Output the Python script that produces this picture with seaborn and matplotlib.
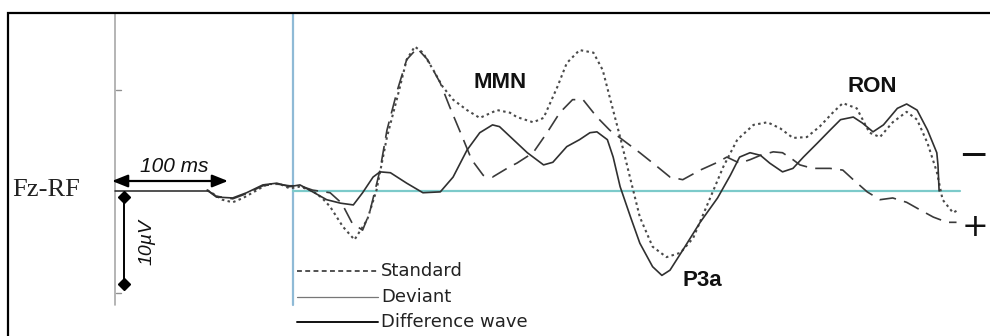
import numpy as np
import pandas as pd
import matplotlib
matplotlib.use("Agg")
import matplotlib.pyplot as plt
from matplotlib.lines import Line2D
import seaborn as sns

# ---- ERP traces at Fz-RF (time in ms from stimulus onset, amplitude in µV; negative up)
t_standard = [-74, -69, -61, -52, -43, -31, -22, -11, -3, 6,
              17, 25, 32, 43, 53, 64, 72, 81, 90, 98,
              105, 112, 121, 129, 138, 150, 161, 176, 187, 193,
              207, 216, 228, 236, 247, 259, 267, 273, 282, 291,
              299, 310, 322, 334, 345, 359, 371, 383, 397, 409,
              420, 431, 443, 454, 466, 474, 486, 497, 506, 517,
              529, 538, 547, 555, 560, 569, 573]
v_standard = [-0.1, 0.3, 1.0, 1.3, 0.8, -0.1, -0.8, -0.8, -0.3, -0.5,
              0.0, 0.8, 1.8, 4.1, 5.6, 3.3, -0.1, -6.2, -10.8, -15.1,
              -16.6, -15.9, -13.9, -12.0, -10.5, -9.3, -8.4, -9.3, -9.0, -8.5,
              -7.9, -8.4, -12.0, -14.7, -16.2, -15.9, -13.9, -10.8, -6.2, -1.3,
              3.0, 6.4, 7.6, 7.1, 5.4, 1.0, -2.8, -5.9, -7.6, -7.9,
              -7.2, -6.1, -6.2, -7.4, -9.1, -10.1, -9.5, -6.7, -6.2, -7.9,
              -9.1, -8.2, -5.5, -2.2, 1.0, 2.5, 2.2]

t_deviant = [-74, -66, -52, -40, -26, -14, -3, 6, 17, 32,
             42, 51, 60, 66, 75, 81, 90, 98, 107, 116,
             127, 135, 146, 154, 164, 172, 187, 193, 207, 219,
             230, 241, 250, 262, 273, 284, 299, 314, 325, 336,
             351, 366, 374, 385, 394, 403, 414, 422, 431, 437,
             448, 463, 474, 483, 495, 506, 517, 529, 541, 552,
             564, 572]
v_deviant = [-0.1, 0.6, 0.9, 0.3, -0.6, -0.8, -0.6, -0.6, -0.1, 0.2,
             1.4, 3.7, 4.5, 2.5, -2.4, -7.0, -11.6, -15.1, -16.4, -15.1,
             -12.4, -9.7, -6.2, -3.6, -1.8, -1.6, -2.8, -3.2, -4.4, -6.7,
             -9.0, -10.5, -10.5, -8.5, -7.0, -5.9, -4.4, -2.8, -1.6, -1.3,
             -2.4, -3.3, -3.9, -3.2, -3.6, -4.1, -4.5, -4.4, -3.6, -3.0,
             -2.6, -2.6, -2.4, -1.3, 0.1, 1.0, 0.8, 1.3, 2.2, 3.0,
             3.6, 3.6]

t_difference = [-74, -66, -52, -40, -26, -14, -3, 6, 17, 29,
                41, 52, 60, 69, 75, 84, 98, 112, 127, 138,
                150, 161, 172, 178, 190, 202, 216, 224, 236, 247,
                256, 262, 271, 276, 282, 291, 299, 310, 318, 325,
                336, 351, 366, 377, 385, 394, 403, 411, 422, 431,
                440, 452, 463, 472, 483, 491, 500, 509, 521, 529,
                538, 547, 555, 556, 557]
v_difference = [-0.1, 0.7, 0.8, 0.2, -0.7, -0.9, -0.5, -0.7, 0.1, 1.0,
                1.4, 1.6, 0.2, -1.6, -2.2, -2.1, -0.9, 0.2, 0.1, -1.6,
                -4.7, -6.7, -7.6, -7.4, -5.9, -4.4, -3.0, -3.3, -5.1, -5.9,
                -6.7, -6.8, -5.9, -3.9, -0.5, 3.0, 6.0, 8.7, 9.7, 9.1,
                6.8, 3.6, 0.8, -1.8, -3.9, -4.4, -4.1, -3.2, -2.2, -2.6,
                -3.9, -5.5, -7.0, -8.2, -8.5, -7.8, -6.8, -7.6, -9.5, -10.0,
                -9.3, -7.0, -4.4, -3.0, 0.0]

legend_labels = ["Standard", "Deviant", "Difference wave"]
component_labels = ["MMN", "P3a", "RON"]

W, H = 990, 336
sns.set_theme(style="white")
plt.rcParams["font.family"] = ["Liberation Sans", "DejaVu Sans"]

fig = plt.figure(figsize=(W / 100, H / 100), dpi=100)
fig.patch.set_facecolor("white")
ax = fig.add_axes([0, 0, 1, 1])
ax.set_facecolor("white")

PX_PER_MS = 1.16
PX_PER_UV = 8.7
ONSET_PX, BASE_PY = 293, 191
ax.set_xlim(-ONSET_PX / PX_PER_MS, (W - ONSET_PX) / PX_PER_MS)
ax.set_ylim((H - BASE_PY) / PX_PER_UV, -BASE_PY / PX_PER_UV)


def fx(px):
    return px / W


def fy(py):
    return 1 - py / H


def to_t(px):
    return (px - ONSET_PX) / PX_PER_MS


def to_v(py):
    return (py - BASE_PY) / PX_PER_UV


# frame (top and left edges)
fig.add_artist(Line2D([fx(8), fx(8), fx(990)], [fy(336), fy(13), fy(13)],
                      color="black", lw=1.6, solid_joinstyle="miter"))

# amplitude axis with two small ticks
ax.plot([to_t(115)] * 2, [to_v(13), to_v(305)], color="#a8a8a8", lw=1.2)
for py in (90, 293):
    ax.plot([to_t(116), to_t(121)], [to_v(py)] * 2, color="#909090", lw=1.0)

# stimulus onset and zero line
ax.plot([0, 0], [to_v(13), to_v(305)], color="#8fbad6", lw=1.6)
ax.plot([0, 575], [0, 0], color="#7ccaca", lw=1.6)
ax.plot([to_t(115), to_t(208)], [0, 0], color="#222222", lw=1.1)

# traces
df_std = pd.DataFrame({"t": t_standard, "v": v_standard})
df_dev = pd.DataFrame({"t": t_deviant, "v": v_deviant})
df_dif = pd.DataFrame({"t": t_difference, "v": v_difference})
sns.lineplot(data=df_std, x="t", y="v", sort=False, estimator=None, ax=ax,
             color="#4a4a4a", lw=1.5, linestyle=(0, (1.2, 1.6)))
sns.lineplot(data=df_dev, x="t", y="v", sort=False, estimator=None, ax=ax,
             color="#3a3a3a", lw=1.2, linestyle=(0, (10, 5)))
sns.lineplot(data=df_dif, x="t", y="v", sort=False, estimator=None, ax=ax,
             color="#303030", lw=1.2)
ax.axis("off")

# 100 ms time scale arrow
ax.annotate("", xy=(to_t(112) + 100, to_v(181)), xytext=(to_t(112), to_v(181)),
            arrowprops=dict(arrowstyle="<|-|>,head_length=0.95,head_width=0.38",
                            mutation_scale=10, color="black", lw=1.6,
                            shrinkA=0, shrinkB=0))
fig.text(fx(174), fy(166), "100 ms", fontsize=15, style="italic",
         ha="center", va="center", color="#111111")

# 10 µV amplitude scale bar
bar_t = to_t(124)
ax.plot([bar_t, bar_t], [to_v(197), to_v(197) + 10], color="black", lw=1.4,
        marker="D", markersize=6.5, markerfacecolor="black")
fig.text(fx(147), fy(242), "10µV", fontsize=14, style="italic", rotation=90,
         ha="center", va="center", color="#111111")

fig.text(fx(12), fy(190), "Fz-RF", fontsize=19, family="Liberation Serif",
         ha="left", va="center", color="#222222")

# component labels
for label, (px, py) in zip(component_labels, [(500, 83), (702, 280), (872, 87)]):
    fig.text(fx(px), fy(py), label, fontsize=16, fontweight="bold",
             ha="center", va="center", color="#111111")

# polarity marks
fig.text(fx(973), fy(156), "\u2212", fontsize=26, family="DejaVu Sans",
         ha="center", va="center", color="#111111")
fig.text(fx(975), fy(228), "+", fontsize=23, family="DejaVu Sans",
         ha="center", va="center", color="#111111")

# key
key_styles = [dict(color="#222222", lw=1.1, linestyle=(0, (3.2, 2.2))),
              dict(color="#777777", lw=0.9),
              dict(color="#111111", lw=1.4)]
key_line_y = [271, 297, 322]
key_text_y = [276, 302, 327]
for label, style, ly, ty in zip(legend_labels, key_styles, key_line_y, key_text_y):
    fig.add_artist(Line2D([fx(297), fx(378)], [fy(ly), fy(ly)], **style))
    fig.text(fx(381), fy(ty), label, fontsize=13, family="DejaVu Sans",
             ha="left", va="baseline", color="#222222")

fig.savefig("out.png", dpi=100, facecolor="white")
